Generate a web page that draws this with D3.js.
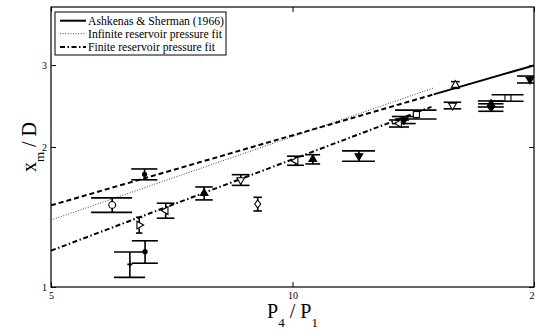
<!DOCTYPE html>
<html><head><meta charset="utf-8">
<script src="https://cdn.jsdelivr.net/npm/d3@7"></script>
<style>body{margin:0;background:#fff}svg{display:block}text{font-family:"Liberation Serif","Times New Roman",serif;fill:#000}</style>
</head><body><svg id="c" width="535" height="331"></svg>
<script>
// ---- data ----
const xTicks = [5, 10, 20];
const yTicks = [1, 2, 3];
const pointP   = [5.96, 6.54, 6.44, 6.55, 6.27, 6.95, 7.76, 8.62, 9.05, 10.09, 10.6, 12.1, 14.27, 13.77, 13.58, 15.96, 15.83, 18.56, 17.68, 17.68, 19.77];
const pointV   = [1.501, 1.747, 1.359, 1.191, 1.119, 1.460, 1.590, 1.699, 1.508, 1.869, 1.882, 1.913, 2.349, 2.286, 2.247, 2.719, 2.456, 2.549, 2.475, 2.432, 2.794];
const pointXErr= [0.35, 0.245, 0.06, 0.245, 0.28, 0.175, 0.195, 0.22, 0.11, 0.245, 0.225, 0.57, 0.85, 0.47, 0.39, 0.2, 0.4, 0.85, 0.66, 0.64, 0.72];
const pointYErr= [0.054, 0.047, 0.053, 0.066, 0.07, 0.054, 0.051, 0.045, 0.051, 0.042, 0.043, 0.049, 0.052, 0.04, 0.039, 0.045, 0.04, 0.041, 0.037, 0.045, 0.048];
const pointMark= ["circleOpen","dot","triRightOpen","dot","plus","triLeftOpen","triUpFilled","triDownOpen","diamondOpen","triLeftOpen","triUpFilled","triDownFilled","squareOpen","triDownFilled","triLeftOpen","triUpOpen","triDownOpen","squareOpen","triUpFilled","diamondFilled","triDownFilled"];
// fit lines (endpoints, straight in log-log)
const ashkenasDashedP = [5, 15];   const ashkenasDashedV = [1.498, 2.595];
const ashkenasSolidP  = [15, 20];  const ashkenasSolidV  = [2.595, 2.996];
const infiniteP = [5, 15.0];       const infiniteV = [1.393, 2.68];
const finiteP   = [5, 14.9];       const finiteV   = [1.197, 2.44];
const legendLabels = ["Ashkenas & Sherman (1966)", "Infinite reservoir pressure fit", "Finite reservoir pressure fit"];

// ---- layout ----
const L = 51, R = 534, T = 7, B = 287;
const svg = d3.select("#c");
const x = d3.scaleLog().domain([5, 20]).range([L, R]);
const y = d3.scaleLog().domain([1, 4]).range([B, T]);

svg.append("defs").append("clipPath").attr("id","pc")
  .append("rect").attr("x",L).attr("y",T).attr("width",R-L).attr("height",B-T);

// axes (inward ticks)
const ax = svg.append("g").attr("transform",`translate(0,${B})`)
  .call(d3.axisBottom(x).tickValues(xTicks).tickFormat(d3.format("d")).tickSize(-5).tickPadding(5));
const axT = svg.append("g").attr("transform",`translate(0,${T})`)
  .call(d3.axisTop(x).tickValues(xTicks).tickFormat("").tickSize(-5));
const ay = svg.append("g").attr("transform",`translate(${L},0)`)
  .call(d3.axisLeft(y).tickValues(yTicks).tickFormat(d3.format("d")).tickSize(-5).tickPadding(4));
const ayR = svg.append("g").attr("transform",`translate(${R},0)`)
  .call(d3.axisRight(y).tickValues(yTicks).tickFormat("").tickSize(-5));
[ax,axT,ay,ayR].forEach(g=>{
  g.select(".domain").remove();
  g.selectAll("line").attr("stroke","#000").attr("stroke-width",1);
  g.selectAll("text").attr("font-size",10).attr("font-family","Liberation Serif");
});

// frame
svg.append("rect").attr("x",L).attr("y",T).attr("width",R-L).attr("height",B-T)
  .attr("fill","none").attr("stroke","#000").attr("stroke-width",1.2);

const plot = svg.append("g").attr("clip-path","url(#pc)");
const line = d3.line().x(d=>x(d[0])).y(d=>y(d[1]));
function drawLine(P, V, dash, w, col){
  plot.append("path").datum(P.map((p,i)=>[p,V[i]])).attr("d",line)
    .attr("fill","none").attr("stroke",col||"#000").attr("stroke-width",w)
    .attr("stroke-dasharray",dash);
}
drawLine(infiniteP, infiniteV, "1,1.6", 1, "#444");
drawLine(ashkenasDashedP, ashkenasDashedV, "5,3", 2);
drawLine(finiteP, finiteV, "5,2.5,1.5,2.5", 2);
drawLine(ashkenasSolidP, ashkenasSolidV, null, 2);

// error bars
const pts = pointP.map((p,i)=>({p, v:pointV[i], xe:pointXErr[i], ye:pointYErr[i], m:pointMark[i]}));
const eb = plot.append("g").attr("stroke","#000").attr("stroke-width",1.6).attr("fill","none");
pts.forEach(d=>{
  eb.append("line").attr("x1",x(d.p)).attr("x2",x(d.p)).attr("y1",y(d.v-d.ye)).attr("y2",y(d.v+d.ye));
  [d.v-d.ye, d.v+d.ye].forEach(vv=>{
    eb.append("line").attr("x1",x(d.p-d.xe)).attr("x2",x(d.p+d.xe)).attr("y1",y(vv)).attr("y2",y(vv));
  });
});

// markers
const mg = plot.append("g");
pts.forEach(d=>{
  const cx = x(d.p), cy = y(d.v);
  const g = mg.append("g").attr("transform",`translate(${cx},${cy})`);
  const open = d.m.endsWith("Open");
  const st = s => s.attr("stroke","#000").attr("stroke-width",1.1).attr("fill", open ? "#fff" : "#000");
  if (d.m==="circleOpen") st(g.append("circle").attr("r",3.4));
  else if (d.m==="dot") g.append("circle").attr("r",2.6).attr("fill","#000");
  else if (d.m==="plus") g.append("path").attr("d",d3.symbol(d3.symbolCross,14)()).attr("fill","#000");
  else if (d.m.startsWith("square")) st(g.append("rect").attr("x",-3).attr("y",-3).attr("width",6).attr("height",6));
  else if (d.m.startsWith("diamond")) st(g.append("path").attr("d","M0,-4L3,0L0,4L-3,0Z"));
  else {
    const rot = d.m.startsWith("triUp")?0: d.m.startsWith("triDown")?180: d.m.startsWith("triRight")?90:270;
    st(g.append("path").attr("d",d3.symbol(d3.symbolTriangle,26)()).attr("transform",`rotate(${rot})`));
  }
});

// legend
const lg = svg.append("g");
lg.append("rect").attr("x",55).attr("y",12).attr("width",171).attr("height",43)
  .attr("fill","#fff").attr("stroke","#000").attr("stroke-width",1);
const legStyles = [[null,2,"#000"],["1,1.6",1,"#444"],["5,2.5,1.5,2.5",2,"#000"]];
const legY = [20.7, 33.7, 47];
const legW = [136, 134, 127];
legendLabels.forEach((t,i)=>{
  lg.append("line").attr("x1",60).attr("x2",86).attr("y1",legY[i]).attr("y2",legY[i])
    .attr("stroke",legStyles[i][2]).attr("stroke-width",legStyles[i][1]).attr("stroke-dasharray",legStyles[i][0]);
  lg.append("text").attr("x",88).attr("y",legY[i]+4.2).attr("font-size",12.5)
    .attr("textLength",legW[i]).attr("lengthAdjust","spacingAndGlyphs").text(t);
});

// axis labels
const xl = svg.append("text").attr("x",(L+R)/2).attr("y",318).attr("text-anchor","middle").attr("font-size",20);
xl.append("tspan").text("P");
xl.append("tspan").attr("dy",9).attr("font-size",13).text("4");
xl.append("tspan").attr("dy",-9).text(" / P");
xl.append("tspan").attr("dy",9).attr("font-size",13).text("1");

const yl = svg.append("text").attr("transform",`translate(36,${(T+B)/2}) rotate(-90)`).attr("text-anchor","middle").attr("font-size",20);
yl.append("tspan").text("x");
yl.append("tspan").attr("dy",8).attr("font-size",13).text("m");
yl.append("tspan").attr("dy",-8).text(" / D");
</script></body></html>
